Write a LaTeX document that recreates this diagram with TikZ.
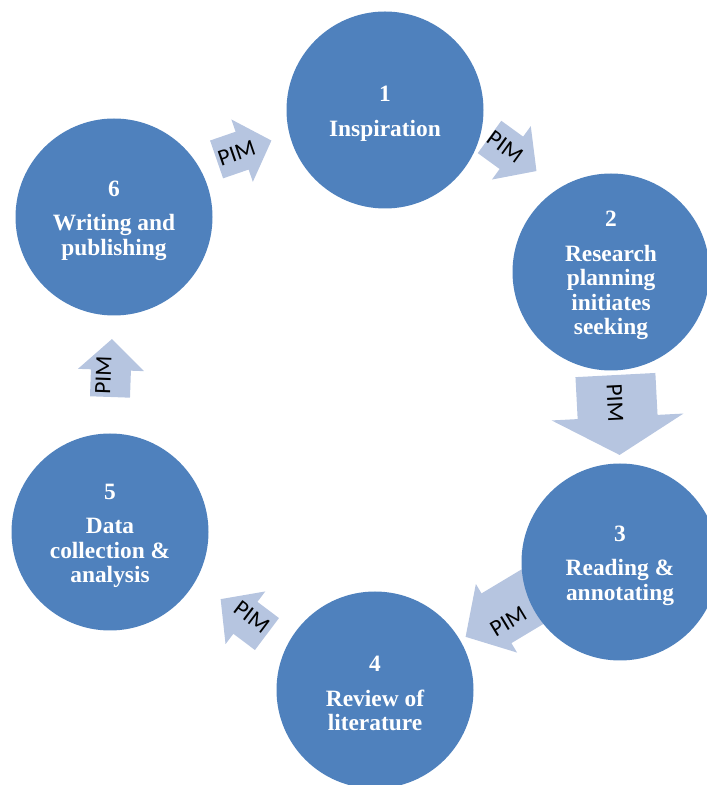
\documentclass[tikz,border=0pt]{standalone}
\usepackage{fontspec}
\newfontfamily\stagefont{Liberation Serif}
\newfontfamily\pimfont{Carlito}
\definecolor{stageblue}{RGB}{79,129,189}
\definecolor{pimblue}{RGB}{182,197,224}
\newcommand{\stagetop}{\rule{0pt}{23pt}}
\tikzset{
  stage/.style={circle, fill=stageblue, minimum size=197pt, inner sep=0pt,
    text=white, align=center, font=\stagefont\bfseries\fontsize{23.4}{24.5}\selectfont},
  pimlabel/.style={inner sep=0pt, font=\pimfont\fontsize{23.4}{28}\selectfont},
  pimfill/.style={fill=pimblue},
}

\begin{document}
\begin{tikzpicture}[x=1pt, y=1pt]
  \clip (0,0) rectangle (707,785);

  % Block arrows first, the circles lie on top of them
  % 6 -> 1
  \begin{scope}[shift={(244,635)}, rotate=19]
    \fill[pimfill] (-29,-20) -- (-2,-20) -- (-2,-33) -- (29,0) -- (-2,33) -- (-2,20) -- (-29,20) -- cycle;
  \end{scope}
  % 1 -> 2
  \begin{scope}[shift={(513,631)}, rotate=-36]
    \fill[pimfill] (-29,-20) -- (-2,-20) -- (-2,-33) -- (29,0) -- (-2,33) -- (-2,20) -- (-29,20) -- cycle;
  \end{scope}
  % 2 -> 3 (the big one)
  \begin{scope}[shift={(617.5,370)}, rotate=-87]
    \fill[pimfill] (-40,-40) -- (2,-40) -- (2,-66) -- (40,0) -- (2,66) -- (2,40) -- (-40,40) -- cycle;
  \end{scope}
  % 3 -> 4
  \begin{scope}[shift={(501.6,169.8)}, rotate=211]
    \fill[pimfill] (-42,-29) -- (6,-29) -- (6,-40) -- (42,0) -- (6,40) -- (6,29) -- (-42,29) -- cycle;
  \end{scope}
  % 4 -> 5
  \begin{scope}[shift={(243.8,168.4)}, rotate=143]
    \fill[pimfill] (-29,-20) -- (-2,-20) -- (-2,-33) -- (29,0) -- (-2,33) -- (-2,20) -- (-29,20) -- cycle;
  \end{scope}
  % 5 -> 6
  \begin{scope}[shift={(111,417)}, rotate=88]
    \fill[pimfill] (-29,-20) -- (-2,-20) -- (-2,-33) -- (29,0) -- (-2,33) -- (-2,20) -- (-29,20) -- cycle;
  \end{scope}

  % Arrow labels
  \node[pimlabel, rotate=19]  (p61) at (236.7,631.7) {PIM};
  \node[pimlabel, rotate=-36] (p12) at (505,638.3) {PIM};
  \node[pimlabel, rotate=-87] (p23) at (615,382) {PIM};
  \node[pimlabel, rotate=31]  (p34) at (508.3,163.3) {PIM};
  \node[pimlabel, rotate=-37] (p45) at (251.7,168.3) {PIM};
  \node[pimlabel, rotate=88]  (p56) at (103.3,410) {PIM};

  % Stages
  \node[stage] (s1) at (385,675) {\stagetop 1\\[10pt]Inspiration};
  \node[stage] (s2) at (611,513) {\stagetop 2\\[10pt]Research\\planning\\initiates\\seeking};
  \node[stage] (s3) at (620,223) {\stagetop 3\\[10pt]Reading \&\\annotating};
  \node[stage] (s4) at (375,95) {\stagetop 4\\[10pt]Review of\\literature};
  \node[stage] (s5) at (110,253) {\stagetop 5\\[10pt]Data\\collection \&\\analysis};
  \node[stage] (s6) at (114,568) {\stagetop 6\\[10pt]Writing and\\publishing};
\end{tikzpicture}
\end{document}
